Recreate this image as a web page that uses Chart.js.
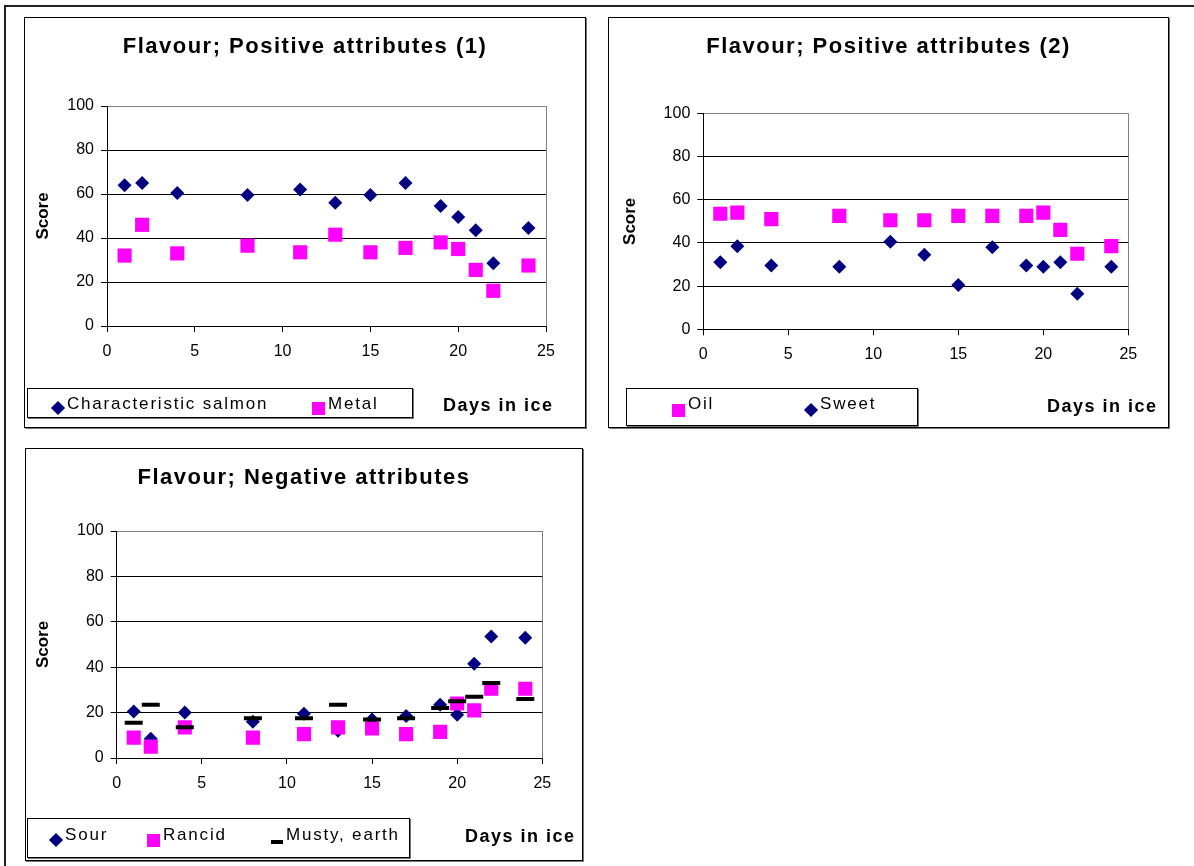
<!DOCTYPE html>
<html>
<head>
<meta charset="utf-8">
<title>Flavour attributes by days in ice</title>
<script src="https://cdn.jsdelivr.net/npm/chart.js@4/dist/chart.umd.min.js"></script>
<style>
  html, body { margin: 0; padding: 0; background: #fff; }
  body { width: 1194px; height: 866px; position: relative; overflow: hidden;
         font-family: "Liberation Sans", Arial, sans-serif; }
  .frame { position: absolute; left: 4px; top: 5px; width: 1200px; height: 880px;
           border-left: 2px solid #222; border-top: 2px solid #222; }
  .panel { position: absolute; border: 1px solid #000; box-shadow: 1px 1px 0 #777; background: #fff; }
  .panel canvas { position: absolute; left: 0; top: 0; }
  .legend { position: absolute; border: 1px solid #000; box-shadow: 1px 1px 0 #777; background: #fff; }
  .item { position: absolute; top: 0; height: 100%; }
  .item span { position: absolute; white-space: nowrap; font-size: 17px; letter-spacing: 1.8px; color: #000; }
  .mk { position: absolute; }
  .xtitle { position: absolute; font-weight: bold; font-size: 18px; letter-spacing: 1.5px; white-space: nowrap; }
</style>
</head>
<body>
<div class="frame"></div>

<div class="panel" id="p1" style="left:24px; top:17px; width:560px; height:409px;"><canvas id="c1" width="560" height="409"></canvas></div>
<div class="panel" id="p2" style="left:608px; top:17px; width:559px; height:409px;"><canvas id="c2" width="559" height="409"></canvas></div>
<div class="panel" id="p3" style="left:25px; top:448px; width:556px; height:411px;"><canvas id="c3" width="556" height="411"></canvas></div>

<script>
// Sampling days (days stored in ice)
const days = [1, 2, 4, 8, 11, 13, 15, 17, 19, 20, 21, 22, 24];

// Positive attributes (1)
const characteristicSalmon = [64, 65, 60.5, 59.5, 62, 56, 59.5, 65, 54.5, 49.5, 43.5, 28.5, 44.5];
const metal = [32, 46, 33, 36.5, 33.5, 41.5, 33.5, 35.5, 38, 35, 25.5, 16, 27.5];

// Positive attributes (2)
const oil = [53.5, 54, 51, 52.5, 50.5, 50.5, 52.5, 52.5, 52.5, 54, 46, 35, 38.5];
const sweet = [31, 38.5, 29.5, 29, 40.5, 34.5, 20.5, 38, 29.5, 29, 31, 16.5, 29];

// Negative attributes
const sour = [20.5, 8.5, 20, 16, 19.5, 12, 17, 18.5, 23.5, 19, 41.5, 53.5, 53];
const rancid = [9, 5, 13.5, 9, 10.5, 13.5, 13, 10.5, 11.5, 24, 21, 30.5, 30.5];
const mustyEarth = [15.5, 23.5, 13.5, 17.5, 17.5, 23.5, 17, 17.5, 22, 25, 27, 33, 26];

// Axis ticks
const xTicks = [0, 5, 10, 15, 20, 25];
const yTicks = [0, 20, 40, 60, 80, 100];

const chartTitles = ['Flavour; Positive attributes (1)', 'Flavour; Positive attributes (2)', 'Flavour; Negative attributes'];
const yAxisTitle = 'Score';
const xAxisTitle = 'Days in ice';

const NAVY = '#000080';
const MAGENTA = '#FF00FF';
const FONT = '"Liberation Sans", Arial, sans-serif';

const pts = (values) => days.map((d, i) => ({ x: d, y: values[i] }));

const diamond = (label, values, order) => ({
  label, data: pts(values), order,
  pointStyle: 'rectRot', pointRadius: 7, pointHoverRadius: 7,
  backgroundColor: NAVY, borderColor: NAVY, borderWidth: 0, showLine: false
});
const square = (label, values, order) => ({
  label, data: pts(values), order,
  pointStyle: 'rect', pointRadius: 10, pointHoverRadius: 10,
  backgroundColor: MAGENTA, borderColor: MAGENTA, borderWidth: 0, showLine: false
});
const dash = (label, values, order) => ({
  label, data: pts(values), order,
  pointStyle: 'line', pointRadius: 9, pointHoverRadius: 9,
  backgroundColor: '#000', borderColor: '#000', borderWidth: 4, showLine: false
});

// Draws the chart title with a little extra tracking, centred on the whole panel
const spacedTitle = {
  id: 'spacedTitle',
  beforeDraw(chart) {
    const tb = chart.titleBlock;
    if (tb && !tb._spaced) {
      const draw = tb.draw.bind(tb);
      tb.draw = function () {
        const c = this.ctx;
        const l = this.left, r = this.right;
        this.left = 0;
        this.right = this.chart.width;
        c.save();
        c.letterSpacing = '1.5px';
        draw();
        c.restore();
        this.left = l;
        this.right = r;
      };
      tb._spaced = true;
    }
  }
};

function makeChart(canvasId, title, datasets, geo) {
  const canvas = document.getElementById(canvasId);
  return new Chart(canvas, {
    type: 'scatter',
    data: { datasets },
    plugins: [spacedTitle],
    options: {
      responsive: false,
      animation: false,
      devicePixelRatio: 1,
      layout: { padding: { left: 0, top: 0, right: geo.padRight, bottom: geo.padBottom } },
      plugins: {
        legend: { display: false },
        tooltip: { enabled: false },
        title: {
          display: true, text: title, color: '#000',
          font: { family: FONT, size: 22, weight: 'bold' },
          padding: { top: 16, bottom: geo.titleBottom }
        }
      },
      scales: {
        x: {
          type: 'linear', min: 0, max: 25,
          afterBuildTicks: (s) => { s.ticks = xTicks.map(v => ({ value: v })); },
          afterFit: (s) => { s.height = 40; },
          border: { display: true, color: '#000', width: 1 },
          grid: {
            drawOnChartArea: true, drawTicks: true, tickLength: 6,
            color: (c) => (c.tick && c.tick.value === 25 ? '#808080' : 'rgba(0,0,0,0)'),
            tickColor: '#000', lineWidth: 1
          },
          ticks: { color: '#000', font: { family: FONT, size: 16 }, padding: geo.xTickPad, maxRotation: 0 }
        },
        y: {
          type: 'linear', min: 0, max: 100,
          afterBuildTicks: (s) => { s.ticks = yTicks.map(v => ({ value: v })); },
          afterFit: (s) => { s.width = geo.left; },
          border: { display: true, color: '#000', width: 1 },
          grid: {
            drawTicks: true, tickLength: 6,
            color: (c) => (c.tick && c.tick.value === 100 ? '#808080' : '#000'),
            tickColor: '#000', lineWidth: 1
          },
          ticks: { color: '#000', font: { family: FONT, size: 16 }, padding: 7 },
          title: {
            display: true, text: yAxisTitle, color: '#000',
            font: { family: FONT, size: 17, weight: 'bold' },
            padding: { top: geo.yTitlePad, bottom: 0 }
          }
        }
      }
    }
  });
}

const charts = [
  makeChart('c1', chartTitles[0], [
    diamond('Characteristic salmon', characteristicSalmon, 1),
    square('Metal', metal, 0)
  ], { left: 82, padRight: 39, padBottom: 61, titleBottom: 45.6, yTitlePad: 7.8, xTickPad: 10 }),
  makeChart('c2', chartTitles[1], [
    square('Oil', oil, 1),
    diamond('Sweet', sweet, 0)
  ], { left: 94.3, padRight: 39.7, padBottom: 57.7, titleBottom: 52.9, yTitlePad: 10.8, xTickPad: 10 }),
  makeChart('c3', chartTitles[2], [
    diamond('Sour', sour, 2),
    square('Rancid', rancid, 1),
    dash('Musty, earth', mustyEarth, 0)
  ], { left: 90.7, padRight: 39.7, padBottom: 62, titleBottom: 39.6, yTitlePad: 6.8, xTickPad: 10 })
];
charts.forEach(c => c.draw());

// Legend boxes and the x-axis caption, built from the chart datasets
function marker(ds) {
  const m = document.createElement('div');
  m.className = 'mk';
  if (ds.pointStyle === 'rectRot') {
    Object.assign(m.style, { width: '10px', height: '10px', background: ds.backgroundColor,
      transform: 'rotate(45deg)', left: '1px', marginTop: '-5px' });
  } else if (ds.pointStyle === 'rect') {
    Object.assign(m.style, { width: '13px', height: '13px', background: ds.backgroundColor, left: '-1px', marginTop: '-6px' });
  } else {
    Object.assign(m.style, { width: '12px', height: '4px', background: ds.borderColor, left: '0px', marginTop: '0px' });
  }
  return m;
}

function buildLegend(chart, box, offsets, markerY, textY, caption) {
  const lg = document.createElement('div');
  lg.className = 'legend';
  Object.assign(lg.style, { left: box[0] + 'px', top: box[1] + 'px', width: box[2] + 'px', height: box[3] + 'px' });
  chart.data.datasets.forEach((ds, i) => {
    const it = document.createElement('div');
    it.className = 'item';
    it.style.left = offsets[i] + 'px';
    const m = marker(ds);
    m.style.top = markerY + 'px';
    it.appendChild(m);
    const t = document.createElement('span');
    t.textContent = ds.label;
    t.style.left = '15px';
    t.style.top = textY + 'px';
    it.appendChild(t);
    lg.appendChild(it);
  });
  document.body.appendChild(lg);

  const xt = document.createElement('div');
  xt.className = 'xtitle';
  xt.textContent = xAxisTitle;
  Object.assign(xt.style, { left: caption[0] + 'px', top: caption[1] + 'px' });
  document.body.appendChild(xt);
}

buildLegend(charts[0], [27, 388, 384, 28], [24, 285], 19, 5, [443, 395]);
buildLegend(charts[1], [626, 388, 290, 36], [46, 178], 21, 5, [1047, 396]);
buildLegend(charts[2], [27, 818, 381, 38], [22, 120, 243], 21, 6, [465, 826]);
</script>
</body>
</html>
